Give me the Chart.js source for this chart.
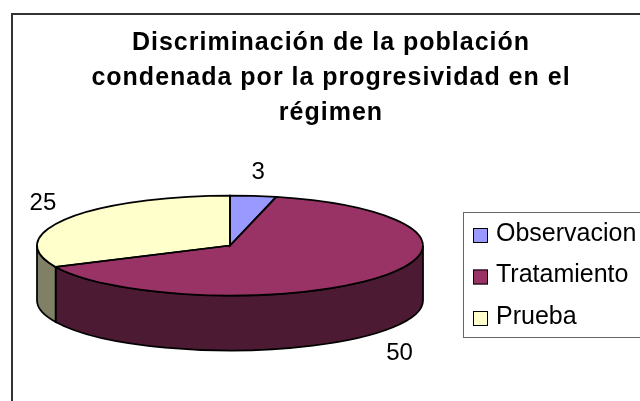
<!DOCTYPE html>
<html>
<head>
<meta charset="utf-8">
<style>
  html, body { margin: 0; padding: 0; background: #fff; }
  #wrap { width: 640px; height: 401px; }
</style>
<script src="https://cdn.jsdelivr.net/npm/chart.js@4"></script>
</head>
<body>
<div id="wrap"><canvas id="myChart" width="640" height="401"></canvas></div>
<script>
// Chart data
const categories = ['Observacion', 'Tratamiento', 'Prueba'];
const values = [3, 50, 25];
const topColors = ['#9999FF', '#993366', '#FFFFCC'];
const sideColors = ['#4D4D80', '#4D1A33', '#808066'];
const titleLines = ['Discriminación de la población', 'condenada por la progresividad en el', 'régimen'];

// Where the tilted pie sits on the page
const pie = { x: 230, y: 245.5, rx: 193, ry: 50, depth: 55 };
// Nudge of each value label from the rim of its slice
const labelNudge = [[5, -23], [20, 21], [-24, -15]];

// Canvas letter spacing for one layout box only
function spaceLetters(box, spacing) {
  const draw = box.draw;
  box.draw = function (area) {
    const ctx = this.ctx;
    ctx.save();
    ctx.letterSpacing = spacing;
    draw.call(this, area);
    ctx.restore();
  };
}

// Side wall of the pie, only the part of a slice facing the viewer
function drawSide(ctx, arc, color) {
  const from = Math.max(arc.startAngle, 0);
  const to = Math.min(arc.endAngle, Math.PI);
  if (from >= to) return;
  ctx.beginPath();
  ctx.ellipse(pie.x, pie.y, pie.rx, pie.ry, 0, from, to);
  ctx.ellipse(pie.x, pie.y + pie.depth, pie.rx, pie.ry, 0, to, from, true);
  ctx.closePath();
  ctx.fillStyle = color;
  ctx.fill();
  ctx.stroke();
}

const tiltedPie = {
  id: 'tiltedPie',
  afterLayout(chart) {
    // move the legend to the box on the right, it runs off the page
    const legend = chart.legend;
    legend.left = 456.5;
    legend.right = 650;
    legend.top = 205;
    legend.bottom = 360;
    if (!chart.$spaced) {
      spaceLetters(chart.titleBlock, '1px');
      chart.$spaced = true;
    }
  },
  beforeDatasetsDraw(chart) {
    const ctx = chart.ctx;
    const arcs = chart.getDatasetMeta(0).data;
    ctx.save();
    ctx.strokeStyle = '#000';
    ctx.lineWidth = 1.75;
    arcs.forEach((arc, i) => drawSide(ctx, arc, sideColors[i]));
    ctx.restore();

    // flatten the library's circle into the ellipse
    const r = arcs[0].outerRadius;
    ctx.save();
    ctx.translate(pie.x, pie.y);
    ctx.scale(pie.rx / r, pie.ry / r);
    ctx.translate(-arcs[0].x, -arcs[0].y);
  },
  afterDatasetsDraw(chart) {
    const ctx = chart.ctx;
    ctx.restore();
    const arcs = chart.getDatasetMeta(0).data;

    // outlines drawn after the restore so the line stays even
    ctx.save();
    ctx.strokeStyle = '#000';
    ctx.lineWidth = 1.75;
    arcs.forEach((arc) => {
      ctx.beginPath();
      ctx.moveTo(pie.x, pie.y);
      ctx.ellipse(pie.x, pie.y, pie.rx, pie.ry, 0, arc.startAngle, arc.endAngle);
      ctx.closePath();
      ctx.stroke();
    });

    // value labels
    ctx.fillStyle = '#000';
    ctx.font = '24px "Liberation Sans"';
    ctx.textAlign = 'center';
    ctx.textBaseline = 'middle';
    arcs.forEach((arc, i) => {
      const mid = (arc.startAngle + arc.endAngle) / 2;
      let y = pie.y + pie.ry * Math.sin(mid);
      if (Math.sin(mid) > 0) y += pie.depth;
      const x = pie.x + pie.rx * Math.cos(mid);
      ctx.fillText(values[i], x + labelNudge[i][0], y + labelNudge[i][1]);
    });
    ctx.restore();
  },
  afterDraw(chart) {
    const ctx = chart.ctx;
    ctx.save();
    // outer frame, cut by the page on the right and at the bottom
    ctx.fillStyle = '#333';
    ctx.fillRect(11, 13, 629, 2);
    ctx.fillRect(11, 13, 2, 388);
    // legend box
    ctx.strokeStyle = '#666';
    ctx.lineWidth = 1;
    ctx.strokeRect(463.5, 212.5, 190, 125);
    // full size swatches over the library's narrower ones
    ctx.strokeStyle = '#000';
    chart.legend.legendHitBoxes.forEach((box, i) => {
      const y = 228 + i * 41.5;
      ctx.fillStyle = topColors[i];
      ctx.fillRect(473, y, 15, 15);
      ctx.strokeRect(473.5, y + 0.5, 14, 14);
    });
    ctx.restore();
  }
};

new Chart(document.getElementById('myChart'), {
  type: 'pie',
  data: {
    labels: categories,
    datasets: [{ data: values, backgroundColor: topColors, borderWidth: 0 }]
  },
  plugins: [tiltedPie],
  options: {
    responsive: false,
    animation: false,
    layout: { padding: { left: 22 } },
    plugins: {
      tooltip: { enabled: false },
      title: {
        display: true,
        text: titleLines,
        color: '#000',
        font: { family: '"Liberation Sans"', size: 25, weight: 'bold', lineHeight: 1.4 },
        padding: { top: 26, bottom: 10 }
      },
      legend: {
        position: 'right',
        align: 'start',
        labels: {
          color: '#000',
          boxWidth: 10.5,
          boxHeight: 10.5,
          padding: 16.5,
          font: { family: '"Liberation Sans"', size: 25 }
        }
      }
    }
  }
});
</script>
</body>
</html>
